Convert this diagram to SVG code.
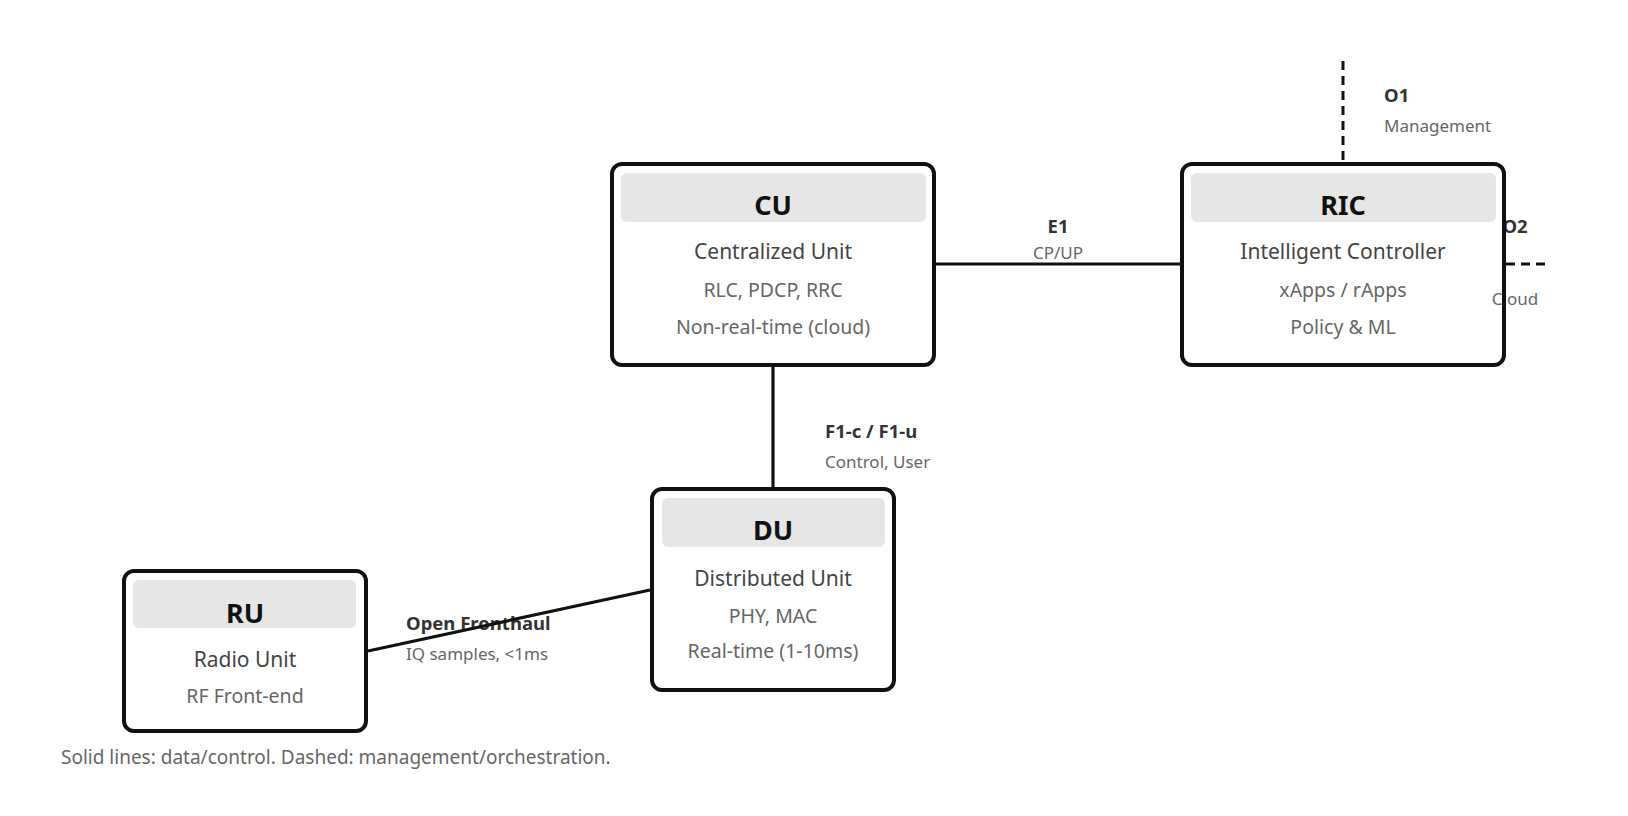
<svg xmlns="http://www.w3.org/2000/svg" width="1628" height="816" viewBox="0 0 1628 816">
<style>
text{font-family:"Segoe UI","Noto Sans","Open Sans",sans-serif}
.box{fill:none;stroke:#111;stroke-width:4}
.hdr{fill:#e6e6e6}
.title{font-size:27px;font-weight:700;fill:#111;text-anchor:middle}
.sub{font-size:21px;fill:#444;text-anchor:middle}
.det{font-size:19.5px;fill:#666;text-anchor:middle}
.lbl{font-size:18.5px;font-weight:700;fill:#333}
.lsub{font-size:17px;fill:#666}
.mid{text-anchor:middle}
.edge{stroke:#111;stroke-width:3.2;fill:none}
.dash{stroke:#111;stroke-width:3;fill:none;stroke-dasharray:9 6}
.cap{font-size:19px;fill:#666}
</style>
<rect width="1628" height="816" fill="#fff"/>
<g id="labels">
<text class="lbl mid" x="1058" y="233">E1</text>
<text class="lsub mid" x="1058" y="259">CP/UP</text>
<text class="lbl" x="825" y="438">F1-c / F1-u</text>
<text class="lsub" x="825" y="468">Control, User</text>
<text class="lbl" x="406" y="630">Open Fronthaul</text>
<text class="lsub" x="406" y="660">IQ samples, &lt;1ms</text>
<text class="lbl" x="1384" y="102">O1</text>
<text class="lsub" x="1384" y="132">Management</text>
<text class="lbl mid" x="1515" y="233">O2</text>
<text class="lsub mid" x="1515" y="305">Cloud</text>
</g>
<g id="connectors">
<line class="edge" x1="936" y1="264" x2="1180" y2="264"/>
<line class="edge" x1="773" y1="367" x2="773" y2="488"/>
<line class="edge" x1="368" y1="651" x2="650" y2="590"/>
<line class="dash" x1="1343" y1="61" x2="1343" y2="162"/>
<line class="dash" x1="1506" y1="264" x2="1547" y2="264"/>
</g>
<g id="CU">
<rect class="box" x="612" y="164" width="322" height="201" rx="10"/>
<rect class="hdr" x="621" y="173" width="305" height="49" rx="6"/>
<text class="title" x="773" y="215">CU</text>
<text class="sub" x="773" y="259">Centralized Unit</text>
<text class="det" x="773" y="297">RLC, PDCP, RRC</text>
<text class="det" x="773" y="334">Non-real-time (cloud)</text>
</g>
<g id="RIC">
<rect class="box" x="1182" y="164" width="322" height="201" rx="10"/>
<rect class="hdr" x="1191" y="173" width="305" height="49" rx="6"/>
<text class="title" x="1343" y="215">RIC</text>
<text class="sub" x="1343" y="259">Intelligent Controller</text>
<text class="det" x="1343" y="297">xApps / rApps</text>
<text class="det" x="1343" y="334">Policy &amp; ML</text>
</g>
<g id="DU">
<rect class="box" x="652" y="489" width="242" height="201" rx="10"/>
<rect class="hdr" x="662" y="498" width="223" height="49" rx="6"/>
<text class="title" x="773" y="540">DU</text>
<text class="sub" x="773" y="586">Distributed Unit</text>
<text class="det" x="773" y="623">PHY, MAC</text>
<text class="det" x="773" y="658">Real-time (1-10ms)</text>
</g>
<g id="RU">
<rect class="box" x="124" y="571" width="242" height="160" rx="10"/>
<rect class="hdr" x="133" y="580" width="223" height="48" rx="6"/>
<text class="title" x="245" y="623">RU</text>
<text class="sub" x="245" y="667">Radio Unit</text>
<text class="det" x="245" y="703">RF Front-end</text>
</g>
<text class="cap" x="61" y="764">Solid lines: data/control. Dashed: management/orchestration.</text>
</svg>
